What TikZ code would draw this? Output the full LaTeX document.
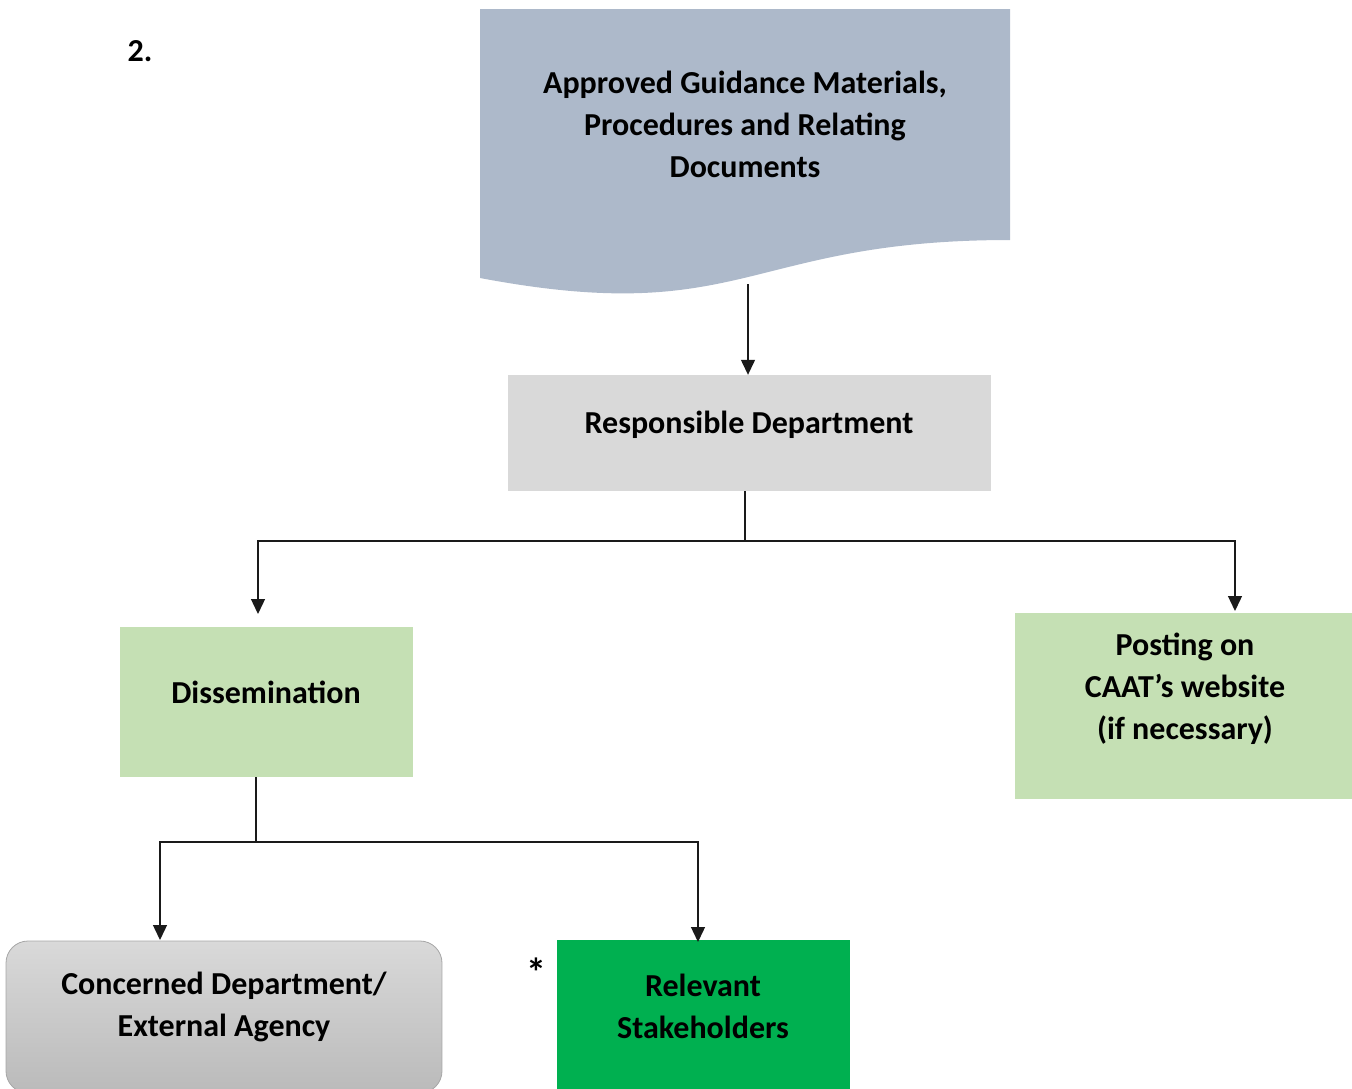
\documentclass[tikz,border=0pt]{standalone}
\usepackage{fontspec}
\setmainfont{Carlito}
\usetikzlibrary{arrows.meta}
\definecolor{docblue}{HTML}{ADB9CA}
\definecolor{boxgrey}{HTML}{D9D9D9}
\definecolor{lightgreen}{HTML}{C5E0B4}
\definecolor{darkgreen}{HTML}{00B050}
\definecolor{edgegrey}{HTML}{A6A6A6}
\definecolor{linegrey}{HTML}{1A1A1A}

\tikzset{
  lbl/.style={align=center, font=\fontsize{32}{42}\selectfont\bfseries, inner sep=0pt},
  box/.style={rectangle, draw=none, inner sep=0pt},
  conn/.style={draw=linegrey, line width=1.3pt},
  arr/.style={conn, -{Triangle[width=14pt,length=15pt]}}
}

\begin{document}
\begin{tikzpicture}[x=1pt, y=-1pt]
		\useasboundingbox (0,0) rectangle (1352,1088);

		%caselle
		\fill[docblue] (480,9) -- (1010,9) -- (1010,240)
			.. controls (745,240) and (745,328) .. (480,278) -- cycle;
		\coordinate (docout) at (748,284);
		\node[box, fill=boxgrey, minimum width=483pt, minimum height=116pt] (resp) at (749.5,433) {};
		\node[box, fill=lightgreen, minimum width=293pt, minimum height=150pt] (dissem) at (266.5,702) {};
		\node[box, fill=lightgreen, minimum width=337pt, minimum height=186pt] (post) at (1183.5,706) {};
		\node[box, draw=edgegrey, line width=0.8pt, rounded corners=22pt, top color=boxgrey, bottom color=black!27,
			minimum width=436pt, minimum height=152pt] (concern) at (224,1017) {};
		\node[box, fill=darkgreen, minimum width=293pt, minimum height=150pt] (stake) at (703.5,1015) {};

		%nomi
		\node[lbl] (num) at (140,51) {2.};
		\node[lbl] (docT) at (745,124) {Approved Guidance Materials,\\Procedures and Relating\\Documents};
		\node[lbl] (respT) at (749,425) {Responsible Department};
		\node[lbl] (dissemT) at (266,692) {Dissemination};
		\node[lbl] (postT) at (1185,689) {Posting on\\CAAT’s website\\(if necessary)};
		\node[lbl] (concernT) at (224,1007) {Concerned Department/\\External Agency};
		\node[lbl] (stakeT) at (703,1006) {Relevant\\Stakeholders};
		\node[lbl, font=\fontsize{40}{42}\selectfont\bfseries] (star) at (536,972) {*};

		%linee
		\coordinate (split1) at (745,541);
		\coordinate (dissemIn) at (258,614);
		\coordinate (postIn) at (1235,611);
		\coordinate (split2) at (256,842);
		\coordinate (concernIn) at (160,940);
		\coordinate (stakeIn) at (698,942);
		\draw[arr] (docout) -- (resp.north -| docout);
		\draw[conn] (resp.south -| split1) -- (split1);
		\draw[arr] (split1) -| (dissemIn);
		\draw[arr] (split1) -| (postIn);
		\draw[conn] (dissem.south -| split2) -- (split2);
		\draw[arr] (split2) -| (concernIn);
		\draw[arr] (split2) -| (stakeIn);

	\end{tikzpicture}
\end{document}
